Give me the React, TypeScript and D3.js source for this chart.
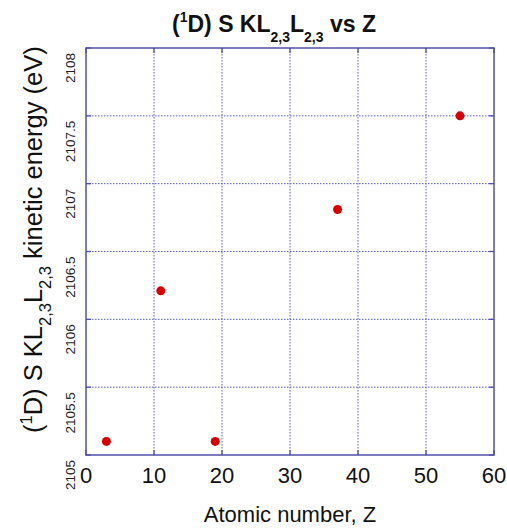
import React from "react";
import * as d3 from "d3";

const atomicNumbers = [3, 11, 19, 37, 55];
const kineticEnergies = [2105.1, 2106.21, 2105.1, 2106.81, 2107.5];
const xTicks = [0, 10, 20, 30, 40, 50, 60];
const yTicks = [2105, 2105.5, 2106, 2106.5, 2107, 2107.5, 2108];

const W = 507;
const H = 529;
const M = { left: 86, right: 494, top: 48, bottom: 455 };
const FONT = "'Liberation Sans', Arial, Helvetica, sans-serif";
const FRAME = "#5050a8";
const GRID = "#5a5ad0";

export default function App() {
  const x = d3.scaleLinear().domain([0, 60]).range([M.left, M.right]);
  const y = d3.scaleLinear().domain([2105, 2108]).range([M.bottom, M.top]);

  return (
    <svg
      width={W}
      height={H}
      style={{ position: "absolute", left: 0, top: 0, background: "#fff" }}
      fontFamily={FONT}
    >
      <rect x={0} y={0} width={W} height={H} fill="#fff" />
      {/* grid */}
      {xTicks.slice(1, -1).map((t) => (
        <line
          key={"gx" + t}
          x1={x(t)}
          x2={x(t)}
          y1={M.top}
          y2={M.bottom}
          stroke={GRID}
          strokeWidth={1}
          strokeDasharray="1.5,1.5"
        />
      ))}
      {yTicks.slice(1, -1).map((t) => (
        <line
          key={"gy" + t}
          x1={M.left}
          x2={M.right}
          y1={y(t)}
          y2={y(t)}
          stroke={GRID}
          strokeWidth={1}
          strokeDasharray="1.5,1.5"
        />
      ))}
      {/* inner ticks */}
      {xTicks.map((t) => (
        <g key={"tx" + t}>
          <line x1={x(t)} x2={x(t)} y1={M.bottom} y2={M.bottom - 5} stroke={FRAME} strokeWidth={1.3} />
          <line x1={x(t)} x2={x(t)} y1={M.top} y2={M.top + 5} stroke={FRAME} strokeWidth={1.3} />
        </g>
      ))}
      {yTicks.map((t) => (
        <g key={"ty" + t}>
          <line x1={M.left} x2={M.left + 5} y1={y(t)} y2={y(t)} stroke={FRAME} strokeWidth={1.3} />
          <line x1={M.right} x2={M.right - 5} y1={y(t)} y2={y(t)} stroke={FRAME} strokeWidth={1.3} />
        </g>
      ))}
      {/* frame */}
      <rect
        x={M.left}
        y={M.top}
        width={M.right - M.left}
        height={M.bottom - M.top}
        fill="none"
        stroke={FRAME}
        strokeWidth={1.5}
      />
      {/* points */}
      {atomicNumbers.map((z, i) => (
        <circle key={"p" + i} cx={x(z)} cy={y(kineticEnergies[i])} r={4.5} fill="#d40000" />
      ))}
      {/* x tick labels */}
      {xTicks.map((t) => (
        <text key={"lx" + t} x={x(t)} y={483} textAnchor="middle" fontSize={22} fill="#111">
          {t}
        </text>
      ))}
      {/* y tick labels */}
      {yTicks.map((t) => (
        <text
          key={"ly" + t}
          x={75}
          y={y(t) + 5}
          transform={`rotate(-90, 75, ${y(t) + 5})`}
          textAnchor="end"
          fontSize={13.5}
          fill="#222"
        >
          {t}
        </text>
      ))}
      {/* x axis title */}
      <text x={290} y={522} textAnchor="middle" fontSize={22} fill="#111">
        Atomic number, Z
      </text>
      {/* y axis title */}
      <text
        x={42}
        y={433}
        transform="rotate(-90, 42, 433)"
        textAnchor="start"
        fontSize={25.5}
        fill="#111"
      >
        <tspan>(</tspan>
        <tspan dy={-10} fontSize={16.5}>1</tspan>
        <tspan dy={10}>D) S KL</tspan>
        <tspan dy={9} fontSize={16.5}>2,3</tspan>
        <tspan dy={-9}>L</tspan>
        <tspan dy={9} fontSize={16.5}>2,3</tspan>
        <tspan dy={-9}> kinetic energy (eV)</tspan>
      </text>
      {/* title */}
      <text x={172} y={32} textAnchor="start" fontSize={23} fontWeight="bold" fill="#111">
        <tspan>(</tspan>
        <tspan dy={-10} fontSize={14}>1</tspan>
        <tspan dy={10}>D) S KL</tspan>
        <tspan dy={10} fontSize={14}>2,3</tspan>
        <tspan dy={-10}>L</tspan>
        <tspan dy={10} fontSize={14}>2,3</tspan>
        <tspan dy={-10}> vs Z</tspan>
      </text>
    </svg>
  );
}
